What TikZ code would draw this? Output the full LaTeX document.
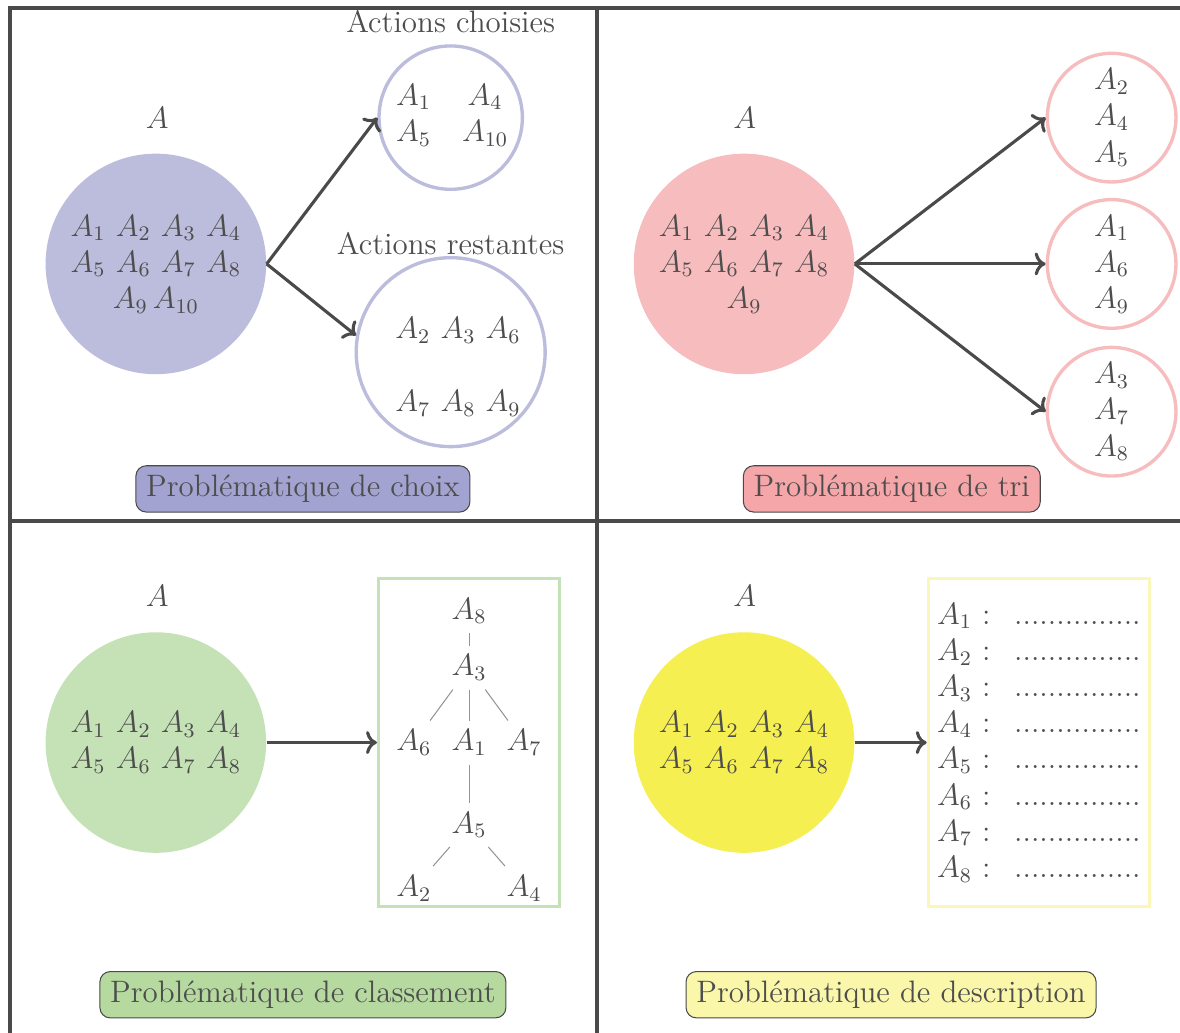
\documentclass[tikz,border=0pt]{standalone}
\usepackage{amssymb}
\usepackage{amsmath}
\usepackage{tikz}
\usetikzlibrary{arrows.meta,positioning,calc}
\definecolor{lavande}{HTML}{BCBCDC}
\definecolor{lavandef}{HTML}{A3A3D1}
\definecolor{rose}{HTML}{F7BCBE}
\definecolor{rosef}{HTML}{F5A6A9}
\definecolor{vert}{HTML}{C5E2B6}
\definecolor{vertf}{HTML}{B5D99F}
\definecolor{jaune}{HTML}{F6EF52}
\definecolor{jaunec}{HTML}{FAF7B8}
\definecolor{jaunef}{HTML}{FAF7AA}
\definecolor{gristexte}{HTML}{4D4D4D}
\definecolor{griscadre}{HTML}{4A4A4A}
\tikzset{
  ensemble/.style={circle, fill=#1, minimum size=3cm, inner sep=0pt, align=center},
  sousens/.style={circle, draw=#1, line width=1.3pt, inner sep=0pt, align=center},
  titre/.style={rectangle, rounded corners=4pt, draw=griscadre, line width=0.4pt, fill=#1,
                minimum height=0.63cm, inner xsep=4pt},
  fleche/.style={->, line width=1.2pt, draw=griscadre},
  cadre/.style={line width=1.2pt, draw=griscadre},
  arbre/.style={line width=0.4pt, draw=gray!85},
}
\newcommand{\ligne}[1]{$A_{#1}$ : \ ...............}

\begin{document}
\begin{tikzpicture}[font=\large, text=gristexte]
    \useasboundingbox (0,0) rectangle (16.05,-14.04);
    \clip (0,0) rectangle (16.05,-14.04);
    % cadre en quatre cases
    \draw[cadre] (0.136,-0.109) rectangle (16.12,-14.1);
    \draw[cadre] (8.12,-0.109) -- (8.12,-14.1);
    \draw[cadre] (0.136,-7.086) -- (16.12,-7.086);

    % probleme de choix
    \node (nomA1) at (2.14,-1.60) {$A$};
    \node[ensemble=lavande] (setA1) at (2.12,-3.59)
      {$A_1$ $A_2$ $A_3$ $A_4$\\ $A_5$ $A_6$ $A_7$ $A_8$\\ $A_9$\,$A_{10}$};
    \node[sousens=lavande, minimum size=1.95cm] (choisies) at (6.13,-1.60) {};
    \node (chtxt) at (6.15,-1.58)
      {\begin{tabular}{cc}$A_1$ & $A_4$\\ $A_5$ & $A_{10}$\end{tabular}};
    \node (nomch) at (6.13,-0.30) {Actions choisies};
    \node[sousens=lavande, minimum size=2.57cm] (restantes) at (6.13,-4.79) {};
    \node[align=center] (restxt) at (6.23,-4.99) {$A_2$ $A_3$ $A_6$\\[0.5cm] $A_7$ $A_8$ $A_9$};
    \node (nomrest) at (6.13,-3.32) {Actions restantes};
    \draw[fleche] (setA1.east) -- (choisies.west);
    \draw[fleche] (setA1.east) -- (restantes.170);
    \node[titre=lavandef] (tchoix) at (4.12,-6.65) {Probl\'ematique de choix};

    % probleme de tri
    \node (nomA2) at (10.13,-1.60) {$A$};
    \node[ensemble=rose] (setA2) at (10.12,-3.59)
      {$A_1$ $A_2$ $A_3$ $A_4$\\ $A_5$ $A_6$ $A_7$ $A_8$\\ $A_9$};
    \node[sousens=rose, minimum size=1.75cm] (tri1) at (15.12,-1.60) {$A_2$\\ $A_4$\\ $A_5$};
    \node[sousens=rose, minimum size=1.75cm] (tri2) at (15.12,-3.59) {$A_1$\\ $A_6$\\ $A_9$};
    \node[sousens=rose, minimum size=1.75cm] (tri3) at (15.12,-5.60) {$A_3$\\ $A_7$\\ $A_8$};
    \draw[fleche] (setA2.east) -- (tri1.west);
    \draw[fleche] (setA2.east) -- (tri2.west);
    \draw[fleche] (setA2.east) -- (tri3.west);
    \node[titre=rosef] (ttri) at (12.13,-6.65) {Probl\'ematique de tri};

    % probleme de classement
    \node (nomA3) at (2.14,-8.11) {$A$};
    \node[ensemble=vert] (setA3) at (2.12,-10.10)
      {$A_1$ $A_2$ $A_3$ $A_4$\\ $A_5$ $A_6$ $A_7$ $A_8$};
    \node[draw=vert, line width=1.3pt, minimum width=2.46cm, minimum height=4.46cm] (rangement) at (6.38,-10.10) {};
    \node (t8) at (6.38,-8.31) {$A_8$};
    \node (t3) at (6.38,-9.08) {$A_3$};
    \node (t6) at (5.63,-10.10) {$A_6$};
    \node (t1) at (6.38,-10.10) {$A_1$};
    \node (t7) at (7.13,-10.10) {$A_7$};
    \node (t5) at (6.38,-11.22) {$A_5$};
    \node (t2) at (5.63,-12.08) {$A_2$};
    \node (t4) at (7.13,-12.08) {$A_4$};
    \draw[arbre] (t8) -- (t3);
    \draw[arbre] (t3) -- (t6);
    \draw[arbre] (t3) -- (t1);
    \draw[arbre] (t3) -- (t7);
    \draw[arbre] (t1) -- (t5);
    \draw[arbre] (t5) -- (t2);
    \draw[arbre] (t5) -- (t4);
    \draw[fleche] (setA3.east) -- (rangement.west);
    \node[titre=vertf] (tclass) at (4.12,-13.53) {Probl\'ematique de classement};

    % probleme de description
    \node (nomA4) at (10.13,-8.11) {$A$};
    \node[ensemble=jaune] (setA4) at (10.12,-10.10)
      {$A_1$ $A_2$ $A_3$ $A_4$\\ $A_5$ $A_6$ $A_7$ $A_8$};
    \node[draw=jaunec, line width=1.3pt, align=left, minimum width=2.95cm, minimum height=4.46cm] (descr) at (14.13,-10.10)
      {\ligne{1}\\ \ligne{2}\\ \ligne{3}\\ \ligne{4}\\ \ligne{5}\\ \ligne{6}\\ \ligne{7}\\ \ligne{8}};
    \draw[fleche] (setA4.east) -- (descr.west);
    \node[titre=jaunef] (tdescr) at (12.12,-13.53) {Probl\'ematique de description};
  \end{tikzpicture}
\end{document}
